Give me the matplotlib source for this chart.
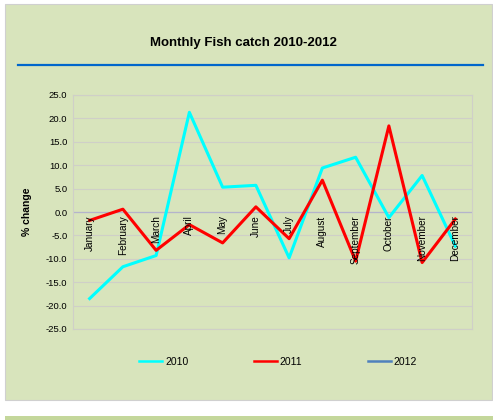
import matplotlib.pyplot as plt
from matplotlib.patches import Rectangle
from matplotlib.lines import Line2D

plt.rcParams['font.family'] = ['Liberation Sans', 'DejaVu Sans']

months = ['January', 'February', 'March', 'April', 'May', 'June', 'July',
          'August', 'September', 'October', 'November', 'December']
catch_2010 = [-18.5, -11.7, -9.3, 21.3, 5.3, 5.7, -9.8, 9.4, 11.7, -1.2, 7.8, -7.3]
catch_2011 = [-1.8, 0.6, -8.2, -2.7, -6.6, 1.1, -5.7, 6.8, -10.5, 18.4, -10.8, -1.5]
catch_2012 = []
years = ['2010', '2011', '2012']
colors = ['#00FFFF', '#FF0000', '#4F81BD']
yticks = [25, 20, 15, 10, 5, 0, -5, -10, -15, -20, -25]

W, H = 493, 420
fig = plt.figure(figsize=(W / 100, H / 100), dpi=100)
fig.patch.set_facecolor('white')

bg = '#D8E4BC'
# chart panel
fig.patches.append(Rectangle((5 / W, 1 - 400 / H), 487 / W, 396 / H,
                             transform=fig.transFigure, facecolor=bg,
                             edgecolor='#D0D0D0', lw=0.8, zorder=-2))
# next panel peeking at bottom
fig.patches.append(Rectangle((5 / W, 0), 488 / W, 4 / H,
                             transform=fig.transFigure, facecolor='#C4D79B',
                             edgecolor='none', zorder=-2))

fig.text(243 / W, 1 - 43 / H, 'Monthly Fish catch 2010-2012', ha='center',
         va='center', fontsize=9.5, fontweight='bold')
fig.add_artist(Line2D([18 / W, 483 / W], [1 - 65 / H, 1 - 65 / H],
                      transform=fig.transFigure, color='#0066CC', lw=1.6))

ax = fig.add_axes([73 / W, 1 - 329 / H, (472 - 73) / W, (329 - 95) / H])
ax.set_zorder(1)
ax.set_facecolor(bg)
x = list(range(len(months)))
ax.plot(x, catch_2010, color=colors[0], lw=2.2, label=years[0], zorder=3)
ax.plot(x, catch_2011, color=colors[1], lw=2.2, label=years[1], zorder=4)
ax.plot(x[:len(catch_2012)], catch_2012, color=colors[2], lw=2.2, label=years[2])

ax.set_xlim(-0.5, len(months) - 0.5)
ax.set_ylim(-25, 25)
ax.set_yticks(yticks)
ax.set_yticklabels(['%.1f' % v for v in yticks], fontsize=6.8)
ax.tick_params(axis='y', length=0, pad=4)
ax.set_xticks([])
ax.grid(axis='y', color='#CFCFC8', lw=0.8)
ax.set_axisbelow(True)
ax.axhline(0, color='#B4B4CC', lw=0.9, zorder=2)
for s in ax.spines.values():
    s.set_color('#CFCFC8')
    s.set_linewidth(0.8)

for i, m in enumerate(months):
    ax.text(i, -0.7, m, rotation=90, ha='center', va='top', fontsize=7.2,
            zorder=5)

ax.set_ylabel('% change', fontsize=7.5, fontweight='bold', labelpad=10)

leg = fig.legend(loc='center', bbox_to_anchor=(278 / W, 1 - 362 / H),
                 ncol=3, frameon=False, fontsize=7.5, handlelength=2.2,
                 handletextpad=0.25, columnspacing=6.3)
for ln in leg.get_lines():
    ln.set_linewidth(1.8)

fig.savefig('out.png', dpi=100, facecolor=fig.get_facecolor())
